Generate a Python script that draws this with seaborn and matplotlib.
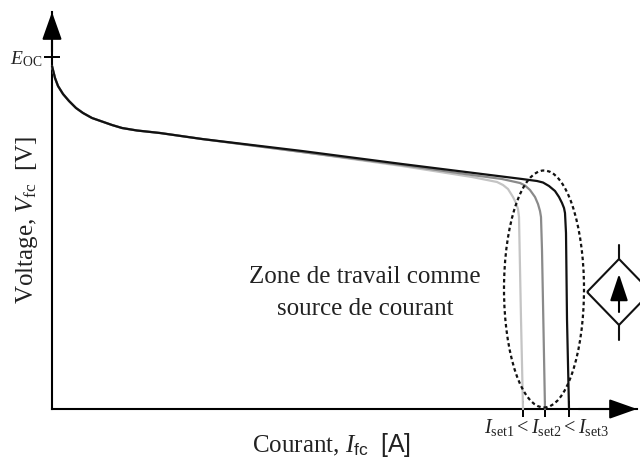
import matplotlib
matplotlib.use("Agg")
import matplotlib.pyplot as plt
import seaborn as sns
import pandas as pd
from matplotlib.patches import Ellipse, Polygon

sns.set_style("white")
plt.rcParams['font.family'] = ['Liberation Serif', 'DejaVu Serif']
plt.rcParams.update({'mathtext.fontset': 'custom', 'mathtext.rm': 'Liberation Serif',
                     'mathtext.it': 'Liberation Serif:italic', 'mathtext.sf': 'Liberation Sans'})

# Current / voltage (arbitrary units)
shared_i = [0, 1, 3, 6, 11, 17, 24, 31, 40, 50, 60, 70, 85, 108]
shared_v = [343, 339, 331, 323, 315, 308, 301, 296, 291, 287.5, 284, 281, 278.5, 276]

i3 = [150, 250, 350, 430, 470, 485, 491, 497, 503, 507, 510, 512, 513, 514, 515, 517]
v3 = [270, 258, 245, 235, 230, 228, 226.5, 223, 218, 212, 206, 201, 196, 176, 90, 0]
i2 = [150, 250, 350, 420, 450, 468, 473, 478, 483, 486, 488, 489, 490, 491.5, 493]
v2 = [270, 257, 244, 234, 230, 226, 223.5, 219, 212, 205, 198, 192, 159, 80, 0]
i1 = [150, 250, 350, 420, 445, 451, 456, 461, 464, 466, 467, 469, 471]
v1 = [270, 257, 243, 232, 227, 224, 220, 212, 206, 200, 192, 90, 0]

series = [("light", i1, v1, "#c4c4c4"), ("mid", i2, v2, "#8a8a8a"), ("dark", i3, v3, "#111111")]
set_ticks = [471, 493, 517]
eoc = 352

fig = plt.figure(figsize=(6.4, 4.58), dpi=100)
ax = fig.add_axes([52/640, 49/458, 585/640, 397/458])
for name, ii, vv, col in series:
    df = pd.DataFrame({"I": shared_i + ii, "V": shared_v + vv})
    sns.lineplot(data=df, x="I", y="V", sort=False, estimator=None, color=col, lw=1.6, ax=ax, clip_on=False)

ax.set_xlim(0, 585)
ax.set_ylim(0, 397)
for s in ("top", "right"):
    ax.spines[s].set_visible(False)
for s in ("left", "bottom"):
    ax.spines[s].set_linewidth(1.5)
    ax.spines[s].set_color("black")
    ax.spines[s].set_zorder(1)

ax.set_xticks(set_ticks, labels=["", "", ""])
ax.set_yticks([eoc], labels=[r"$E_{\mathrm{OC}}$"])
ax.tick_params(axis="x", bottom=True, direction="inout", length=11, width=1.4, color="black", pad=0)
ax.tick_params(axis="y", left=True, direction="inout", length=12, width=1.4, color="black", pad=1, labelsize=14, labelcolor="#222222")

arrow = dict(arrowstyle="-|>,head_length=1.55,head_width=0.55", mutation_scale=11, lw=1.5, color="black",
             shrinkA=0, shrinkB=0)
ax.annotate("", xy=(1, 0), xytext=(0.9, 0), xycoords="axes fraction", arrowprops=arrow)
ax.annotate("", xy=(0, 1), xytext=(0, 0.9), xycoords="axes fraction", arrowprops=arrow)

ax.add_patch(Ellipse((492, 120), 80, 237, fill=False, ec="#111111", lw=1.6, ls=(0, (1.6, 1.3)), clip_on=False, zorder=4))

ax.text(313, 132, "Zone de travail comme", ha="center", va="center", fontsize=18, color="#222222")
ax.text(313, 100, "source de courant", ha="center", va="center", fontsize=18, color="#222222")
ax.text(495, -18, r"$I_{\mathrm{set1}} < I_{\mathrm{set2}} < I_{\mathrm{set3}}$", ha="center", va="center",
        fontsize=14.5, color="#222222")

ax.set_xlabel(r"Courant, $I_{\mathsf{fc}}$  $\mathsf{[A]}$", fontsize=18, color="#222222")
ax.xaxis.set_label_coords(279/585, -22/397)
ax.set_ylabel(r"Voltage, $V_{\mathrm{fc}}$  $\mathrm{[V]}$", fontsize=18, color="#222222")
ax.yaxis.set_label_coords(-12/585, 189/397)

# Current source symbol
ax.add_patch(Polygon([(535, 117), (567, 150), (599, 117), (567, 84)], closed=True, fill=False, ec="#111111", lw=1.5, clip_on=False))
ax.plot([567, 567], [150, 164], color="#111111", lw=1.5, clip_on=False)
ax.plot([567, 567], [84, 69], color="#111111", lw=1.5, clip_on=False)
ax.annotate("", xy=(567, 135), xytext=(567, 97), arrowprops=dict(arrowstyle="-|>,head_length=1.5,head_width=0.5",
            mutation_scale=11, lw=1.5, color="black", shrinkA=0, shrinkB=0))

fig.savefig("out.png", dpi=100)
